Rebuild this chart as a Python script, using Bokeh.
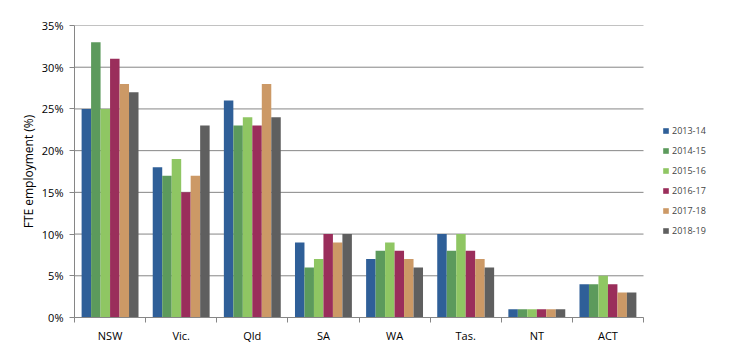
from bokeh.plotting import figure
from bokeh.models import ColumnDataSource, FixedTicker, Legend, LegendItem, Range1d
from bokeh.embed import file_html
from bokeh.resources import INLINE

states = ["NSW", "Vic.", "Qld", "SA", "WA", "Tas.", "NT", "ACT"]
years = ["2013-14", "2014-15", "2015-16", "2016-17", "2017-18", "2018-19"]
v2013_14 = [25, 18, 26, 9, 7, 10, 1, 4]
v2014_15 = [33, 17, 23, 6, 8, 8, 1, 4]
v2015_16 = [25, 19, 24, 7, 9, 10, 1, 5]
v2016_17 = [31, 15, 23, 10, 8, 8, 1, 4]
v2017_18 = [28, 17, 28, 9, 7, 7, 1, 3]
v2018_19 = [27, 23, 24, 10, 6, 6, 1, 3]
series = [v2013_14, v2014_15, v2015_16, v2016_17, v2017_18, v2018_19]
colors = ["#2F5F98", "#5C9A5C", "#8FC663", "#9A2E5B", "#CC9966", "#5F5F5F"]
yticks = [0, 5, 10, 15, 20, 25, 30, 35]

FONT = "Open Sans"
n = len(states)
frame_w = 735 - 74
extra = frame_w / (569 / n)
p = figure(width=735, height=353, output_backend="svg", toolbar_location=None,
           x_range=Range1d(0, extra), y_range=Range1d(0, 35),
           min_border_left=74, min_border_right=0, min_border_top=25, min_border_bottom=36)
p.outline_line_color = None
p.background_fill_color = "white"

# horizontal gridlines limited to the category area
p.segment(x0=[0] * len(yticks), x1=[n] * len(yticks), y0=yticks, y1=yticks,
          line_color="#868686", line_width=1)

bw = 0.8 / 6
renderers = []
for i, (vals, col) in enumerate(zip(series, colors)):
    xs = [k + 0.1 + bw * (i + 0.5) for k in range(n)]
    src = ColumnDataSource(dict(x=xs, top=vals))
    r = p.vbar(x="x", top="top", bottom=0, width=bw, source=src, fill_color=col, line_color=None)
    renderers.append(r)

# x axis
p.xaxis.bounds = (0, n)
p.xaxis.ticker = FixedTicker(ticks=[k + 0.5 for k in range(n)], minor_ticks=list(range(n + 1)))
p.xaxis.major_label_overrides = {k + 0.5: s for k, s in enumerate(states)}
p.xaxis.major_tick_line_color = None
p.xaxis.major_tick_out = 0
p.xaxis.major_tick_in = 0
p.xaxis.minor_tick_out = 5
p.xaxis.minor_tick_in = 0
p.xaxis.minor_tick_line_color = "#868686"
p.xaxis.axis_line_color = "#868686"
p.xaxis.major_label_standoff = 5
p.xaxis.major_label_text_font = FONT
p.xaxis.major_label_text_font_size = "11px"
p.xaxis.major_label_text_color = "#000000"
p.xgrid.grid_line_color = None
p.ygrid.grid_line_color = None

# y axis
p.yaxis.ticker = FixedTicker(ticks=yticks)
p.yaxis.major_label_overrides = {t: f"{t}%" for t in yticks}
p.yaxis.major_tick_out = 5
p.yaxis.major_tick_in = 0
p.yaxis.minor_tick_line_color = None
p.yaxis.major_tick_line_color = "#868686"
p.yaxis.axis_line_color = "#868686"
p.yaxis.major_label_standoff = 6
p.yaxis.major_label_text_font = FONT
p.yaxis.major_label_text_font_size = "11px"
p.yaxis.major_label_text_color = "#000000"
p.yaxis.axis_label = "FTE employment (%)"
p.yaxis.axis_label_text_font = FONT
p.yaxis.axis_label_text_font_size = "12px"
p.yaxis.axis_label_text_font_style = "normal"
p.yaxis.axis_label_text_color = "#000000"
p.yaxis.axis_label_standoff = 2

items = [LegendItem(label=y, renderers=[r]) for y, r in zip(years, renderers)]
legend = Legend(items=items, location=(588, 80), orientation="vertical",
                glyph_width=7, glyph_height=7, label_standoff=3, spacing=7,
                label_text_font=FONT, label_text_font_size="9px", label_height=9,
                padding=2, margin=0, border_line_color=None, background_fill_alpha=0)
p.add_layout(legend, "center")

open("out.html", "w").write(file_html(p, INLINE))
